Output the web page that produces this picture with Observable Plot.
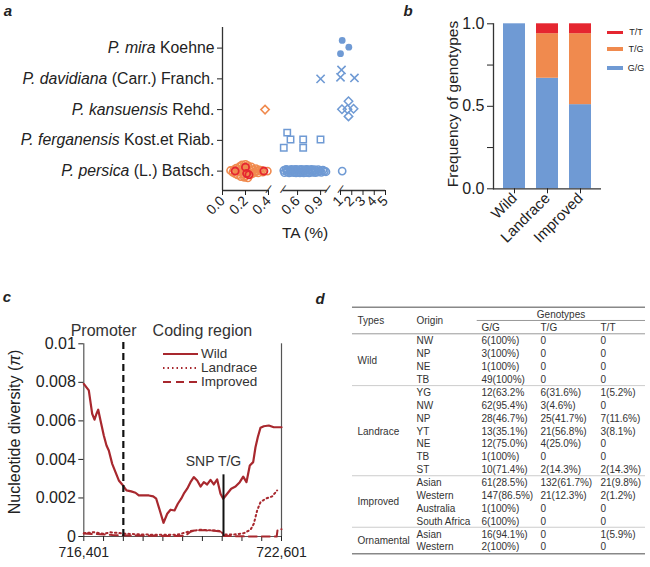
<!DOCTYPE html>
<html><head><meta charset="utf-8">
<script src="https://cdn.jsdelivr.net/npm/d3@7"></script>
<script src="https://cdn.jsdelivr.net/npm/@observablehq/plot@0.6"></script>
<style>
body{margin:0;background:#fff;font-family:"Liberation Sans",Arial,sans-serif;color:#222;}
#wrap{position:relative;width:650px;height:567px;overflow:hidden;background:#fff;}
.t{position:absolute;white-space:nowrap;transform:translate(-50%,-50%);line-height:1;}
</style></head><body><div id="wrap"></div>
<script>
// ---------- Panel a data ----------
const speciesItalic = ["P. persica","P. ferganensis","P. kansuensis","P. davidiana","P. mira"];
const speciesAuthor = [" (L.) Batsch."," Kost.et Riab."," Rehd."," (Carr.) Franch."," Koehne"];
const taTicks = [0,0.2,0.4,0.6,0.9,1,2,3,4,5];
const taTickLabels = ["0.0","0.2","0.4","0.6","0.9","1","2","3","4","5"];
const taSegments = [[0,0.4],[0.41,0.99],[1,5]];
const persicaOrangeTA = [0.07,0.09,0.10,0.11,0.12,0.13,0.14,0.14,0.15,0.16,0.16,0.17,0.18,0.18,0.19,0.19,0.20,0.20,0.21,0.21,0.22,0.22,0.23,0.24,0.24,0.25,0.26,0.27,0.28,0.29,0.30,0.31,0.32,0.34,0.35,0.39];
const persicaOrangeJit = [0.02,-0.04,0.05,-0.08,0.10,-0.12,0.06,-0.02,0.15,-0.18,0.04,0.20,-0.10,0.12,-0.20,0.02,0.22,-0.15,0.08,-0.05,0.18,-0.22,0.10,-0.12,0.03,0.14,-0.08,0.05,-0.04,0.08,0.00,-0.06,0.04,0.02,-0.03,0.00];
const persicaRedTA = [0.11,0.20,0.21,0.23,0.36];
const persicaRedJit = [0.00,0.13,-0.08,-0.12,0.00];
const persicaBlueTA = [0.42,0.43,0.45,0.46,0.47,0.49,0.50,0.51,0.52,0.53,0.55,0.56,0.57,0.58,0.58,0.60,0.61,0.62,0.63,0.64,0.65,0.66,0.67,0.68,0.69,0.70,0.71,0.72,0.73,0.74,0.75,0.77,0.78,0.79,0.80,0.82,0.83,0.84,0.86,0.87,0.89,0.91,0.93,0.95,0.97,1.15];
const persicaBlueJit = [0.02,-0.05,0.06,-0.02,0.04,-0.06,0.03,-0.04,0.06,0.00,-0.05,0.05,-0.02,0.06,-0.06,0.02,-0.04,0.05,-0.06,0.03,0.06,-0.03,0.00,-0.06,0.05,0.02,-0.05,0.06,-0.02,0.04,-0.06,0.03,0.06,-0.04,0.00,0.05,-0.05,0.02,-0.03,0.05,0.00,-0.04,0.03,0.00,-0.02,0.00];
const ferganensisTA = [0.465,0.508,0.42,0.673,0.673,0.899];
const ferganensisJit = [0.25,0.03,-0.24,0.03,-0.24,0.03];
const kansuensisOrangeTA = [0.37];
const kansuensisBlueTA = [1.71,1.13,1.62,2.16,1.71];
const kansuensisBlueJit = [0.27,0.01,0.01,0.03,-0.22];
const davidianaTA = [0.90,1.09,1.0,2.24];
const davidianaJit = [0.0,0.29,0.05,0.03];
const miraTA = [1.15,1.74,1.0];
const miraJit = [0.25,0.03,-0.18];

// ---------- Panel b data ----------
const bGroups = ["Wild","Landrace","Improved"];
const bGenotypes = ["G/G","T/G","T/T"];
const bGG = [1.0,0.67,0.51];
const bTG = [0.0,0.27,0.43];
const bTT = [0.0,0.06,0.06];
const bYTicks = [0,0.25,0.5,0.75,1];

// ---------- Panel c data ----------
const wildPos = [716401,716558,716611,716664,716737,716799,716853,716925,717028,717113,717185,717292,717395,717499,717605,717740,717887,718022,718126,718283,718440,718578,718672,718785,718901,719017,719121,719246,719350,719456,719537,719644,719747,719851,719957,720062,720165,720271,720375,720478,720584,720688,720773,720898,721023,721158,721292,721400,721503,721607,721713,721785,721857,721942,722046,722203,722359,722464,722601];
const wildPi = [0.00792,0.00758,0.00697,0.00637,0.00606,0.00637,0.00658,0.00602,0.00524,0.00472,0.00446,0.00377,0.00334,0.00291,0.00270,0.00239,0.00234,0.00227,0.00213,0.00213,0.00213,0.00208,0.00196,0.00135,0.00071,0.00118,0.00139,0.00135,0.00170,0.00196,0.00222,0.00248,0.00282,0.00308,0.00291,0.00259,0.00282,0.00270,0.00294,0.00270,0.00296,0.00222,0.00196,0.00222,0.00248,0.00259,0.00282,0.00311,0.00282,0.00368,0.00386,0.00463,0.00515,0.00564,0.00572,0.00576,0.00567,0.00567,0.00567];
const landracePos = [716401,716715,717028,717238,717762,718283,718806,719329,719747,720062,720478,720688,720793,721106,721419,721628,721733,721837,721942,722099,722307,722464];
const landracePi = [0.00017,0.00022,0.00014,0.00022,0.00014,0.00010,0.00009,0.00009,0.00028,0.00035,0.00031,0.00028,0.00010,0.00010,0.00017,0.00035,0.00066,0.00135,0.00178,0.00196,0.00208,0.00239];
const improvedPos = [716401,716900,717300,717800,718300,718800,719300,719600,719747,719900,720200,720500,720700,720790,721100,721600,722200,722450,722480,722601];
const improvedPi = [0.00015,0.00012,0.00008,0.00005,0.00005,0.00003,0.00002,0.00005,0.00025,0.00033,0.00032,0.00030,0.00025,0.00003,0.00002,0.0,0.0,0.0,0.00038,0.00038];
const cXDomain = [716401,722601];
const cXTickLabels = ["716,401","722,601"];
const cYTicks = [0,0.002,0.004,0.006,0.008,0.01];
const cYTickLabels = ["0","0.002","0.004","0.006","0.008","0.01"];
const promoterEnd = 717641;
const snpPos = 720782;
const snpTop = 0.0032;
const regionLabels = ["Promoter","Coding region"];

// ---------- Panel d data ----------
const tTypes = ["Wild","Landrace","Improved","Ornamental"];
const tOrigins = [["NW","NP","NE","TB"],["YG","NW","NP","YT","NE","TB","ST"],["Asian","Western","Australia","South Africa"],["Asian","Western"]];
const tGG = ["6(100%)","3(100%)","1(100%)","49(100%)","12(63.2%","62(95.4%)","28(46.7%)","13(35.1%)","12(75.0%)","1(100%)","10(71.4%)","61(28.5%)","147(86.5%)","1(100%)","6(100%)","16(94.1%)","2(100%)"];
const tTG = ["0","0","0","0","6(31.6%)","3(4.6%)","25(41.7%)","21(56.8%)","4(25.0%)","0","2(14.3%)","132(61.7%)","21(12.3%)","0","0","0","0"];
const tTT = ["0","0","0","0","1(5.2%)","0","7(11.6%)","3(8.1%)","0","0","2(14.3%)","21(9.8%)","2(1.2%)","0","0","1(5.9%)","0"];
const tHeaders = ["Types","Origin","Genotypes","G/G","T/G","T/T"];

// ---------- colours ----------
const cBlue = "#6F9AD4", cOrange = "#F08A4E", cRed = "#E52630", cLine = "#A8282E";
const FONT = "Liberation Sans, Arial, Helvetica, sans-serif";
const baseStyle = {background:"transparent", fontFamily: FONT, color:"#222", overflow:"visible"};

const wrap = document.getElementById("wrap");
function layer(svg){ svg.style.position="absolute"; svg.style.left="0"; svg.style.top="0"; wrap.appendChild(svg); return svg; }
function htext(txt, x, y, css){ const d=document.createElement("div"); d.className="t"; d.innerHTML=txt; d.style.left=x+"px"; d.style.top=y+"px"; Object.assign(d.style, css||{}); wrap.appendChild(d); return d; }

// ================= Panel a =================
const rowsA = [];
persicaOrangeTA.forEach((v,i)=>rowsA.push({ta:v, y:0+persicaOrangeJit[i], g:"orangeO"}));
persicaBlueTA.forEach((v,i)=>rowsA.push({ta:v, y:0+persicaBlueJit[i], g:"blueO"}));
persicaRedTA.forEach((v,i)=>rowsA.push({ta:v, y:0+persicaRedJit[i], g:"redO"}));
const fergRows = ferganensisTA.map((v,i)=>({ta:v, y:1+ferganensisJit[i]}));
const kanORows = kansuensisOrangeTA.map(v=>({ta:v, y:2}));
const kanBRows = kansuensisBlueTA.map((v,i)=>({ta:v, y:2+kansuensisBlueJit[i]}));
const davRows = davidianaTA.map((v,i)=>({ta:v, y:3+davidianaJit[i]}));
const miraRows = miraTA.map((v,i)=>({ta:v, y:4+miraJit[i]}));
const yBotA = -0.63, yTopA = 4.67;
const speciesFull = speciesItalic.map((s,i)=>s+speciesAuthor[i]);

const plotA = Plot.plot({
  width:650, height:567, marginLeft:222, marginRight:265, marginTop:27, marginBottom:377,
  style: baseStyle,
  x: {type:"linear", domain: taSegments.flat(), range:[222,268,282.5,327,340,385], label:null},
  y: {type:"linear", domain:[yBotA,yTopA], label:null},
  marks: [
    Plot.ruleX([0], {y1: yBotA, y2: yTopA, stroke:"#333", strokeWidth:1.3}),
    Plot.ruleY(taSegments, {x1:d=>d[0], x2:d=>d[1], y:()=>yBotA, stroke:"#333", strokeWidth:1.3}),
    Plot.text(taSegments.flat().slice(1,-1), {x:d=>d, y:()=>yBotA, text:()=>"/", fontSize:12, rotate:20, fill:"#333", dy:-1}),
    Plot.axisY({ticks:[0,1,2,3,4], tickFormat:i=>speciesFull[i], tickSize:5, tickPadding:3, fontSize:15.8, label:null}),
    Plot.axisX({ticks:taTicks, tickFormat:d=>taTickLabels[taTicks.indexOf(d)], tickSize:5, tickPadding:3, tickRotate:-45, fontSize:14, label:null}),
    Plot.dot(rowsA.filter(d=>d.g==="orangeO"), {x:"ta", y:"y", r:3.6, stroke:cOrange, strokeWidth:1.6, fill:"none"}),
    Plot.dot(rowsA.filter(d=>d.g==="blueO"), {x:"ta", y:"y", r:3.6, stroke:cBlue, strokeWidth:1.6, fill:"none"}),
    Plot.dot(rowsA.filter(d=>d.g==="redO"), {x:"ta", y:"y", r:3.6, stroke:cRed, strokeWidth:1.8, fill:"none"}),
    Plot.dot(fergRows, {x:"ta", y:"y", r:3.6, symbol:"square", stroke:cBlue, strokeWidth:1.5, fill:"none"}),
    Plot.dot(kanORows, {x:"ta", y:"y", r:3.8, symbol:"diamond2", stroke:cOrange, strokeWidth:1.5, fill:"none"}),
    Plot.dot(kanBRows, {x:"ta", y:"y", r:3.8, symbol:"diamond2", stroke:cBlue, strokeWidth:1.5, fill:"none"}),
    Plot.dot(davRows, {x:"ta", y:"y", r:3.8, symbol:"times", stroke:cBlue, strokeWidth:1.6}),
    Plot.dot(miraRows, {x:"ta", y:"y", r:3.4, symbol:"circle", fill:cBlue, stroke:"none"})
  ]
});
layer(plotA);
const NS="http://www.w3.org/2000/svg";
plotA.querySelectorAll('g[aria-label="y-axis tick label"] text').forEach(t=>{
  const i = speciesFull.indexOf(t.textContent);
  if (i<0) return;
  t.textContent="";
  t.style.whiteSpace="pre";
  const a=document.createElementNS(NS,"tspan"); a.setAttribute("font-style","italic"); a.textContent=speciesItalic[i];
  const b=document.createElementNS(NS,"tspan"); b.textContent=speciesAuthor[i];
  t.appendChild(a); t.appendChild(b);
});
htext("TA (%)", 305, 233, {fontSize:"15.5px"});

// ================= Panel b =================
const rowsB = [];
bGroups.forEach((g,i)=>{ [bGG,bTG,bTT].forEach((arr,k)=>rowsB.push({group:g, geno:bGenotypes[k], v:arr[i]})); });
const plotB = Plot.plot({
  width:650, height:567, marginLeft:493, marginRight:49, marginTop:23.3, marginBottom:378.7,
  style: baseStyle,
  x: {type:"band", domain:bGroups, range:[494,601], paddingInner:0.323, paddingOuter:0.27, label:null},
  y: {type:"linear", domain:[0,1], label:null},
  color: {domain:bGenotypes, range:[cBlue,cOrange,cRed]},
  marks: [
    Plot.barY(rowsB, {x:"group", y:"v", fill:"geno"}),
    Plot.frame({anchor:"left", stroke:"#333", strokeWidth:1.3}),
    Plot.ruleY([0], {stroke:"#333", strokeWidth:1.3}),
    Plot.axisY({ticks:bYTicks, tickFormat:d=>(Math.abs(d*2-Math.round(d*2))<1e-9)?d.toFixed(1):"", tickSize:6, tickPadding:3, fontSize:16, label:null}),
    Plot.axisX({tickSize:5, tickPadding:2, tickRotate:-45, fontSize:15, label:null})
  ]
});
layer(plotB);
htext("Frequency of genotypes", 453, 104, {fontSize:"15.5px", transform:"translate(-50%,-50%) rotate(-90deg)"});
[["T/T",cRed,32],["T/G",cOrange,48.5],["G/G",cBlue,67.5]].forEach(([lab,col,y])=>{
  const s=document.createElement("div"); s.style.cssText=`position:absolute;left:607px;top:${y-1.5}px;width:16px;height:3.5px;background:${col}`; wrap.appendChild(s);
  htext(lab, 636, y, {fontSize:"9px"});
});

// ================= Panel c =================
const wildRows = wildPos.map((p,i)=>({pos:p, pi:wildPi[i]}));
const landRows = landracePos.map((p,i)=>({pos:p, pi:landracePi[i]}));
const impRows = improvedPos.map((p,i)=>({pos:p, pi:improvedPi[i]}));
const cXTicks = d3.range(cXDomain[0], cXDomain[1]+1, (cXDomain[1]-cXDomain[0])/10);
const regionCenters = [(cXDomain[0]+promoterEnd)/2, (promoterEnd+cXDomain[1])/2];
const plotC = Plot.plot({
  width:650, height:567, marginLeft:83.3, marginRight:369, marginTop:343.3, marginBottom:31,
  style: baseStyle,
  x: {type:"linear", domain:cXDomain, label:null},
  y: {type:"linear", domain:[0,0.01], label:null},
  marks: [
    Plot.ruleX([cXDomain[0], cXDomain[1]], {stroke:"#555", strokeWidth:1.2}),
    Plot.ruleY([0], {stroke:"#555", strokeWidth:1.2}),
    Plot.axisY({ticks:cYTicks, tickFormat:d=>cYTickLabels[cYTicks.indexOf(d)], tickSize:5, tickPadding:3, fontSize:16, label:null}),
    Plot.axisX({ticks:cXTicks, tickFormat:d=>d===cXDomain[0]?cXTickLabels[0]:(d===cXDomain[1]?cXTickLabels[1]:""), tickSize:5, tickPadding:6, fontSize:14, label:null}),
    Plot.line(impRows, {x:"pos", y:"pi", stroke:cLine, strokeWidth:2, strokeDasharray:"8,5"}),
    Plot.line(landRows, {x:"pos", y:"pi", stroke:cLine, strokeWidth:2, strokeDasharray:"1.5,3"}),
    Plot.line(wildRows, {x:"pos", y:"pi", stroke:cLine, strokeWidth:2.2}),
    Plot.ruleX([promoterEnd], {y1:0, y2:0.0102, stroke:"#111", strokeWidth:2.2, strokeDasharray:"7,4"}),
    Plot.ruleX([snpPos], {y1:0, y2:snpTop, stroke:"#111", strokeWidth:2}),
    Plot.text(["SNP T/G"], {x:()=>snpPos, y:()=>snpTop, dy:-13, dx:-10, fontSize:14, fill:"#333"}),
    Plot.text(regionLabels, {x:(d,i)=>regionCenters[i], y:()=>0.01, dy:-13, fontSize:16, fill:"#333"})
  ]
});
layer(plotC);
htext('Nucleotide diversity (<i>π</i>)', 15, 432, {fontSize:"16px", transform:"translate(-50%,-50%) rotate(-90deg)"});
[["Wild","",354],["Landrace","1.5,3",368],["Improved","8,5",381.7]].forEach(([lab,dash,y])=>{
  const s=document.createElementNS(NS,"svg"); s.setAttribute("width","36"); s.setAttribute("height","6");
  s.style.cssText=`position:absolute;left:163px;top:${y-3}px`;
  const l=document.createElementNS(NS,"line"); l.setAttribute("x1","0"); l.setAttribute("x2","35"); l.setAttribute("y1","3"); l.setAttribute("y2","3");
  l.setAttribute("stroke",cLine); l.setAttribute("stroke-width","2.2"); if(dash) l.setAttribute("stroke-dasharray",dash);
  s.appendChild(l); wrap.appendChild(s);
  htext(lab, 201, y, {fontSize:"13.5px", transform:"translate(0,-50%)", color:"#333"});
});

// ================= Panel d =================
const cellRows = [];
let r = 0; const typeRows = []; const sepRows = [];
tOrigins.forEach((grp,gi)=>{
  typeRows.push({text:tTypes[gi], row:r+(grp.length-1)/2});
  grp.forEach(o=>{ cellRows.push({col:1,row:r,text:o}); cellRows.push({col:2,row:r,text:tGG[r]}); cellRows.push({col:3,row:r,text:tTG[r]}); cellRows.push({col:4,row:r,text:tTT[r]}); r++; });
  if (gi<tOrigins.length-1) sepRows.push(r-0.55);
});
const lastRow = r-1;
const headCells = [
  {col:0,row:-1.55,text:tHeaders[0],anchor:"start"},
  {col:1,row:-1.55,text:tHeaders[1],anchor:"start"},
  {col:3.342,row:-2.05,text:tHeaders[2],anchor:"middle"},
  {col:2,row:-1.04,text:tHeaders[3],anchor:"start"},
  {col:3,row:-1.04,text:tHeaders[4],anchor:"start"},
  {col:4,row:-1.04,text:tHeaders[5],anchor:"start"}
];
const plotD = Plot.plot({
  width:650, height:567, marginLeft:357, marginRight:50, marginTop:302, marginBottom:7,
  style: baseStyle,
  x: {type:"linear", domain:[0,1,2,3,4], range:[357,416,481,540,600], axis:null},
  y: {type:"linear", domain:[-3,17], range:[302.075,559.575], axis:null},
  marks: [
    Plot.ruleY([-2.64, lastRow+0.51], {x1:-0.085, x2:4.75, stroke:"#888", strokeWidth:1.4}),
    Plot.ruleY([-1.61], {x1:1.934, x2:4.75, stroke:"#999", strokeWidth:1}),
    Plot.ruleY([-0.575], {x1:-0.085, x2:4.75, stroke:"#999", strokeWidth:1}),
    Plot.ruleY(sepRows, {x1:-0.085, x2:4.75, stroke:"#ccc", strokeWidth:1}),
    Plot.text(typeRows, {x:()=>0, y:"row", text:"text", textAnchor:"start", fontSize:10, fill:"#333"}),
    Plot.text(cellRows, {x:"col", y:"row", text:"text", textAnchor:"start", fontSize:10, fill:"#333"}),
    Plot.text(headCells.filter(d=>d.anchor==="start"), {x:"col", y:"row", text:"text", textAnchor:"start", fontSize:10, fill:"#333"}),
    Plot.text(headCells.filter(d=>d.anchor==="middle"), {x:"col", y:"row", text:"text", textAnchor:"middle", fontSize:10, fill:"#333"})
  ]
});
layer(plotD);

htext("a", 8, 10, {fontSize:"15px", fontWeight:"bold", fontStyle:"italic"});
htext("b", 408, 10, {fontSize:"15px", fontWeight:"bold", fontStyle:"italic"});
htext("c", 7, 296, {fontSize:"15px", fontWeight:"bold", fontStyle:"italic"});
htext("d", 320, 298, {fontSize:"15px", fontWeight:"bold", fontStyle:"italic"});
</script></body></html>
